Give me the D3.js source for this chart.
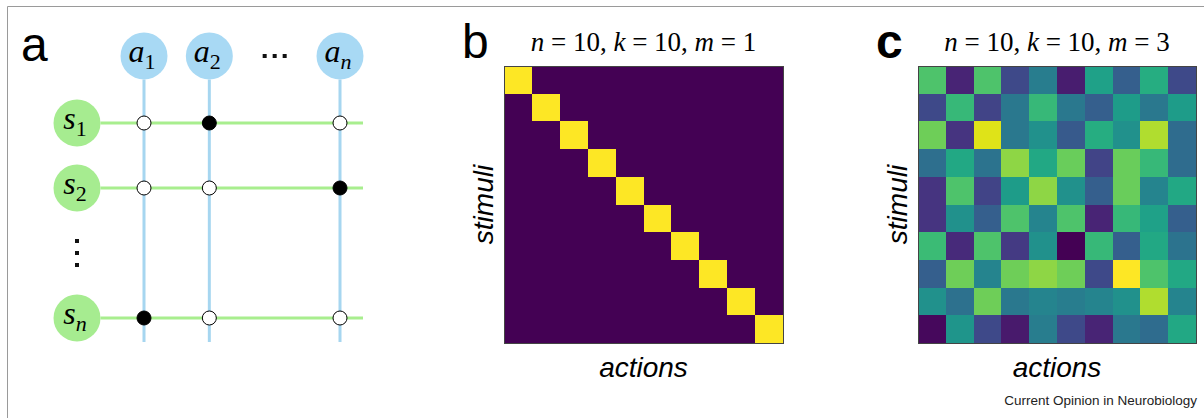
<!DOCTYPE html>
<meta charset="utf-8">
<script src="https://d3js.org/d3.v7.min.js"></script>
<style>
  body { margin: 0; background: #fff; }
  .sans { font-family: "Liberation Sans", Arial, sans-serif; }
  .serif { font-family: "Liberation Serif", "DejaVu Serif", "Times New Roman", serif; }
</style>
<div id="chart"></div>
<script>
// Panel a: the bipartite stimulus/action graph
const actions = ["a1", "a2", "dots", "an"];
const stimuli = ["s1", "s2", "dots", "sn"];
const actionLabels = {a1: "1", a2: "2", an: "n"};
const stimulusLabels = {s1: "1", s2: "2", sn: "n"};
// which (stimulus, action) pairs are filled
const chosen = [["s1", "a2"], ["s2", "an"], ["sn", "a1"]];

// Panel b: n = 10, k = 10, m = 1 (one action per stimulus)
const diagRows = [
  [1,0,0,0,0,0,0,0,0,0],
  [0,1,0,0,0,0,0,0,0,0],
  [0,0,1,0,0,0,0,0,0,0],
  [0,0,0,1,0,0,0,0,0,0],
  [0,0,0,0,1,0,0,0,0,0],
  [0,0,0,0,0,1,0,0,0,0],
  [0,0,0,0,0,0,1,0,0,0],
  [0,0,0,0,0,0,0,1,0,0],
  [0,0,0,0,0,0,0,0,1,0],
  [0,0,0,0,0,0,0,0,0,1]
];

// Panel c: n = 10, k = 10, m = 3
const mixRows = [
  [0.72, 0.10, 0.72, 0.22, 0.42, 0.08, 0.57, 0.30, 0.62, 0.22],
  [0.22, 0.67, 0.20, 0.40, 0.67, 0.40, 0.30, 0.55, 0.40, 0.55],
  [0.78, 0.15, 0.95, 0.40, 0.50, 0.28, 0.62, 0.50, 0.88, 0.35],
  [0.36, 0.60, 0.38, 0.83, 0.60, 0.77, 0.20, 0.77, 0.67, 0.35],
  [0.15, 0.72, 0.20, 0.55, 0.83, 0.50, 0.30, 0.77, 0.45, 0.60],
  [0.15, 0.50, 0.30, 0.72, 0.45, 0.72, 0.10, 0.67, 0.57, 0.30],
  [0.68, 0.12, 0.72, 0.17, 0.50, 0.00, 0.67, 0.30, 0.60, 0.38],
  [0.30, 0.78, 0.45, 0.78, 0.83, 0.78, 0.22, 1.00, 0.72, 0.60],
  [0.50, 0.37, 0.78, 0.40, 0.45, 0.42, 0.45, 0.50, 0.88, 0.45],
  [0.02, 0.52, 0.22, 0.07, 0.42, 0.22, 0.10, 0.40, 0.35, 0.60]
];

const width = 1204, height = 418;

const svg = d3.select("#chart")
  .append("svg")
  .attr("width", width)
  .attr("height", height);

// frame (top and left edges visible)
svg.append("path")
  .attr("d", `M7.5,${height} V6.5 H${width}`)
  .attr("fill", "none")
  .attr("stroke", "#9a9a9a")
  .attr("stroke-width", 1);

// ---------- panel a ----------
const blue = "#a8d9f4", blueLine = "#a6d6f0";
const green = "#a6ec90", greenLine = "#a8ee8e";

const ax = d3.scalePoint().domain(actions).range([144, 340]);
const sy = d3.scalePoint().domain(stimuli).range([123, 318]);
const rBig = 23.5;
const sX = 77, aY = 56, lineEndY = 342, lineEndX = 363;

svg.append("text")
  .attr("class", "sans")
  .attr("x", 21).attr("y", 61)
  .attr("font-size", 48)
  .text("a");

const realA = actions.filter(d => d !== "dots");
const realS = stimuli.filter(d => d !== "dots");

// vertical action lines
svg.append("g").selectAll("line")
  .data(realA)
  .join("line")
    .attr("x1", d => ax(d)).attr("x2", d => ax(d))
    .attr("y1", aY + rBig).attr("y2", lineEndY)
    .attr("stroke", blueLine).attr("stroke-width", 3);

// horizontal stimulus lines
svg.append("g").selectAll("line")
  .data(realS)
  .join("line")
    .attr("x1", sX + rBig).attr("x2", lineEndX)
    .attr("y1", d => sy(d)).attr("y2", d => sy(d))
    .attr("stroke", greenLine).attr("stroke-width", 3);

function nodeLabel(sel, letter, subs) {
  sel.append("text")
    .attr("class", "serif")
    .attr("x", -2).attr("y", 6)
    .attr("text-anchor", "middle")
    .attr("font-size", 32)
    .call(t => {
      t.append("tspan").attr("font-style", "italic").text(letter);
      t.append("tspan").attr("font-size", 22).attr("dy", 7)
        .attr("font-style", d => subs[d] === "n" ? "italic" : "normal")
        .text(d => subs[d]);
    });
}

// action nodes
const aNodes = svg.append("g").selectAll("g")
  .data(realA)
  .join("g")
    .attr("transform", d => `translate(${ax(d)},${aY})`);
aNodes.append("circle").attr("r", rBig).attr("fill", blue);
nodeLabel(aNodes, "a", actionLabels);

// stimulus nodes
const sNodes = svg.append("g").selectAll("g")
  .data(realS)
  .join("g")
    .attr("transform", d => `translate(${sX},${sy(d)})`);
sNodes.append("circle").attr("r", rBig).attr("fill", green);
nodeLabel(sNodes, "s", stimulusLabels);

// ellipses
svg.append("g").selectAll("rect")
  .data([-1, 0, 1])
  .join("rect")
    .attr("x", d => ax("dots") + d * 10 - 2)
    .attr("y", aY - 2)
    .attr("width", 4).attr("height", 4).attr("fill", "#111");
svg.append("g").selectAll("rect")
  .data([-1, 0, 1])
  .join("rect")
    .attr("x", sX - 2)
    .attr("y", d => sy("dots") + d * 12 - 2)
    .attr("width", 4).attr("height", 4).attr("fill", "#111");

// intersection nodes
const pairs = realS.flatMap(s => realA.map(a => ({s, a})));
const isChosen = p => chosen.some(c => c[0] === p.s && c[1] === p.a);
svg.append("g").selectAll("circle")
  .data(pairs)
  .join("circle")
    .attr("cx", d => ax(d.a))
    .attr("cy", d => sy(d.s))
    .attr("r", 7)
    .attr("fill", d => isChosen(d) ? "#000" : "#fff")
    .attr("stroke", "#000").attr("stroke-width", 1);

// ---------- heatmap panels ----------
const color = d3.scaleSequential(d3.interpolateViridis).domain([0, 1]);
const idx = d3.range(10);

function heatmap(rows, x0, x1, y0, y1, letter, mVal, bold) {
  const x = d3.scaleBand().domain(idx).range([x0, x1]);
  const y = d3.scaleBand().domain(idx).range([y0, y1]);
  const cells = rows.flatMap((row, i) => row.map((v, j) => ({i, j, v})));
  const g = svg.append("g").attr("shape-rendering", "crispEdges");
  g.selectAll("rect")
    .data(cells)
    .join("rect")
      .attr("x", d => x(d.j))
      .attr("y", d => y(d.i))
      .attr("width", x.bandwidth() + 1)
      .attr("height", y.bandwidth() + 1)
      .attr("fill", d => color(d.v));
  svg.append("rect")
    .attr("x", x0 + 0.5).attr("y", y0 + 0.5)
    .attr("width", x1 - x0).attr("height", y1 - y0)
    .attr("fill", "none")
    .attr("stroke", "#444").attr("stroke-width", 1);

  const cx = (x0 + x1) / 2;
  // panel letter
  svg.append("text")
    .attr("class", "sans")
    .attr("x", x0 - 42).attr("y", 58)
    .attr("font-size", 48)
    .attr("font-weight", bold ? "bold" : "normal")
    .text(letter);
  // title
  const title = svg.append("text")
    .attr("class", "serif")
    .attr("x", cx).attr("y", 51)
    .attr("text-anchor", "middle")
    .attr("font-size", 27);
  const parts = [["n", true], [" = 10, ", false], ["k", true], [" = 10, ", false], ["m", true], [" = " + mVal, false]];
  parts.forEach(p => title.append("tspan")
    .attr("font-style", p[1] ? "italic" : "normal")
    .text(p[0]));
  // axis labels
  svg.append("text")
    .attr("class", "sans")
    .attr("transform", `translate(${x0 - 11},${(y0 + y1) / 2}) rotate(-90)`)
    .attr("text-anchor", "middle")
    .attr("font-size", 28)
    .attr("font-style", "italic")
    .text("stimuli");
  svg.append("text")
    .attr("class", "sans")
    .attr("x", cx).attr("y", 377)
    .attr("text-anchor", "middle")
    .attr("font-size", 28)
    .attr("font-style", "italic")
    .text("actions");
}

heatmap(diagRows, 504, 783, 66, 343, "b", 1, false);
heatmap(mixRows, 918, 1196, 66, 343, "c", 3, true);

svg.append("text")
  .attr("class", "sans")
  .attr("x", 1197).attr("y", 405)
  .attr("text-anchor", "end")
  .attr("font-size", 13.5)
  .attr("fill", "#222")
  .text("Current Opinion in Neurobiology");
</script>
